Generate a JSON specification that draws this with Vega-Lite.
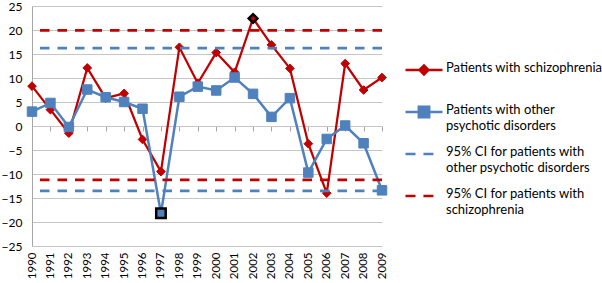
{
  "$schema": "https://vega.github.io/schema/vega-lite/v6.json",
  "width": 350,
  "height": 240,
  "autosize": "none",
  "padding": {"left": 32, "top": 6, "right": 220, "bottom": 37},
  "background": "white",
  "datasets": {
    "series": [
      {"year": "1990", "series": "Patients with schizophrenia", "value": 8.3},
      {"year": "1991", "series": "Patients with schizophrenia", "value": 3.4},
      {"year": "1992", "series": "Patients with schizophrenia", "value": -1.5},
      {"year": "1993", "series": "Patients with schizophrenia", "value": 12.1},
      {"year": "1994", "series": "Patients with schizophrenia", "value": 5.8},
      {"year": "1995", "series": "Patients with schizophrenia", "value": 6.8},
      {"year": "1996", "series": "Patients with schizophrenia", "value": -2.8},
      {"year": "1997", "series": "Patients with schizophrenia", "value": -9.5},
      {"year": "1998", "series": "Patients with schizophrenia", "value": 16.4},
      {"year": "1999", "series": "Patients with schizophrenia", "value": 8.9},
      {"year": "2000", "series": "Patients with schizophrenia", "value": 15.3},
      {"year": "2001", "series": "Patients with schizophrenia", "value": 11.2},
      {"year": "2002", "series": "Patients with schizophrenia", "value": 22.4},
      {"year": "2003", "series": "Patients with schizophrenia", "value": 16.9},
      {"year": "2004", "series": "Patients with schizophrenia", "value": 12.0},
      {"year": "2005", "series": "Patients with schizophrenia", "value": -3.7},
      {"year": "2006", "series": "Patients with schizophrenia", "value": -14.0},
      {"year": "2007", "series": "Patients with schizophrenia", "value": 13.0},
      {"year": "2008", "series": "Patients with schizophrenia", "value": 7.5},
      {"year": "2009", "series": "Patients with schizophrenia", "value": 10.1},
      {"year": "1990", "series": "Patients with other psychotic disorders", "value": 3.0},
      {"year": "1991", "series": "Patients with other psychotic disorders", "value": 4.8},
      {"year": "1992", "series": "Patients with other psychotic disorders", "value": -0.2},
      {"year": "1993", "series": "Patients with other psychotic disorders", "value": 7.6},
      {"year": "1994", "series": "Patients with other psychotic disorders", "value": 6.0},
      {"year": "1995", "series": "Patients with other psychotic disorders", "value": 5.0},
      {"year": "1996", "series": "Patients with other psychotic disorders", "value": 3.6},
      {"year": "1997", "series": "Patients with other psychotic disorders", "value": -18.2},
      {"year": "1998", "series": "Patients with other psychotic disorders", "value": 6.1},
      {"year": "1999", "series": "Patients with other psychotic disorders", "value": 8.2},
      {"year": "2000", "series": "Patients with other psychotic disorders", "value": 7.4},
      {"year": "2001", "series": "Patients with other psychotic disorders", "value": 10.1},
      {"year": "2002", "series": "Patients with other psychotic disorders", "value": 6.7},
      {"year": "2003", "series": "Patients with other psychotic disorders", "value": 1.9},
      {"year": "2004", "series": "Patients with other psychotic disorders", "value": 5.8},
      {"year": "2005", "series": "Patients with other psychotic disorders", "value": -9.7},
      {"year": "2006", "series": "Patients with other psychotic disorders", "value": -2.7},
      {"year": "2007", "series": "Patients with other psychotic disorders", "value": 0.1},
      {"year": "2008", "series": "Patients with other psychotic disorders", "value": -3.6},
      {"year": "2009", "series": "Patients with other psychotic disorders", "value": -13.4}
    ],
    "ci": [
      {"series": "Patients with schizophrenia", "bound": "upper", "value": 19.9},
      {"series": "Patients with schizophrenia", "bound": "lower", "value": -11.2},
      {"series": "Patients with other psychotic disorders", "bound": "upper", "value": 16.2},
      {"series": "Patients with other psychotic disorders", "bound": "lower", "value": -13.5}
    ]
  },
  "data": {"name": "series"},
  "config": {
    "view": {"stroke": null},
    "font": "Lato",
    "axisY": {
      "grid": true, "gridColor": "#c6c6c6", "gridWidth": 1,
      "domain": true, "domainColor": "#a6a6a6", "domainWidth": 1,
      "ticks": false, "labelPadding": 10, "labelFontSize": 12, "labelColor": "#000000",
      "labelFont": "Lato", "title": null, "labelOverlap": false, "labelBound": false, "labelFlush": false,
      "tickCount": 20
    },
    "axisX": {
      "labelFont": "Lato", "labelColor": "#000000", "labelFontSize": 11.5
    },
    "legend": {
      "labelFont": "Lato", "labelFontSize": 13, "labelColor": "#000000", "labelLimit": 400
    }
  },
  "resolve": {"axis": {"x": "independent"}},
  "layer": [
    {
      "transform": [{"filter": "datum.series === 'Patients with schizophrenia'"}],
      "mark": {"type": "line", "color": "#C00000", "strokeWidth": 2.25},
      "encoding": {
        "x": {"field": "year", "type": "ordinal", "scale": {"type": "point", "padding": 0},
              "axis": {"orient": "bottom", "labelAngle": -90, "ticks": false, "domain": false, "grid": false, "labelPadding": 6, "title": null}},
        "y": {"field": "value", "type": "quantitative", "scale": {"domain": [-25, 25], "nice": false},
              "axis": {"values": [-25, -20, -15, -10, -5, 0, 5, 10, 15, 20, 25], "tickCount": 20, "title": null, "labelOverlap": false}}
      }
    },
    {
      "transform": [{"filter": "datum.series === 'Patients with schizophrenia'"}],
      "mark": {"type": "point", "shape": "diamond", "filled": true, "size": 75, "opacity": 1},
      "encoding": {
        "x": {"field": "year", "type": "ordinal", "axis": null},
        "y": {"field": "value", "type": "quantitative", "axis": {"values": [-25, -20, -15, -10, -5, 0, 5, 10, 15, 20, 25], "tickCount": 20, "title": null, "labelOverlap": false}},
        "fill": {"value": "#C00000"},
        "stroke": {"condition": {"test": "datum.year === '2002'", "value": "#000000"}, "value": "#C00000"},
        "strokeWidth": {"condition": {"test": "datum.year === '2002'", "value": 2.5}, "value": 1}
      }
    },
    {
      "transform": [{"filter": "datum.series === 'Patients with other psychotic disorders'"}],
      "mark": {"type": "line", "color": "#4F81BD", "strokeWidth": 2.5},
      "encoding": {
        "x": {"field": "year", "type": "ordinal",
              "axis": {"orient": "top", "offset": -120, "labels": false, "ticks": true, "tickSize": -5, "tickColor": "#a6a6a6", "domain": true, "domainColor": "#c6c6c6", "grid": false, "title": null}},
        "y": {"field": "value", "type": "quantitative", "axis": {"values": [-25, -20, -15, -10, -5, 0, 5, 10, 15, 20, 25], "tickCount": 20, "title": null, "labelOverlap": false}}
      }
    },
    {
      "transform": [{"filter": "datum.series === 'Patients with other psychotic disorders'"}],
      "mark": {"type": "point", "shape": "square", "filled": true, "size": 90, "opacity": 1},
      "encoding": {
        "x": {"field": "year", "type": "ordinal", "axis": null},
        "y": {"field": "value", "type": "quantitative", "axis": {"values": [-25, -20, -15, -10, -5, 0, 5, 10, 15, 20, 25], "tickCount": 20, "title": null, "labelOverlap": false}},
        "fill": {"value": "#4F81BD"},
        "stroke": {"condition": {"test": "datum.year === '1997'", "value": "#000000"}, "value": "#4F81BD"},
        "strokeWidth": {"condition": {"test": "datum.year === '1997'", "value": 2.5}, "value": 1}
      }
    },
    {
      "data": {"name": "ci"},
      "transform": [{"filter": "datum.series === 'Patients with other psychotic disorders'"}],
      "mark": {"type": "rule", "color": "#4F81BD", "strokeWidth": 2.75, "strokeDash": [9.5, 8]},
      "encoding": {"y": {"field": "value", "type": "quantitative", "axis": {"values": [-25, -20, -15, -10, -5, 0, 5, 10, 15, 20, 25], "tickCount": 20, "title": null, "labelOverlap": false}}}
    },
    {
      "data": {"name": "ci"},
      "transform": [{"filter": "datum.series === 'Patients with schizophrenia'"}],
      "mark": {"type": "rule", "color": "#C00000", "strokeWidth": 2.75, "strokeDash": [9.5, 8]},
      "encoding": {"y": {"field": "value", "type": "quantitative", "axis": {"values": [-25, -20, -15, -10, -5, 0, 5, 10, 15, 20, 25], "tickCount": 20, "title": null, "labelOverlap": false}}}
    },
    {
      "transform": [{"filter": "false"}],
      "mark": {"type": "point", "filled": true},
      "encoding": {
        "fill": {"field": "series", "type": "nominal",
          "scale": {"domain": ["Patients with schizophrenia|", "Patients with other|psychotic disorders", "95% CI for patients with|other psychotic disorders", "95% CI for patients with|schizophrenia"],
                    "range": ["#C00000", "#4F81BD", "#4F81BD", "#C00000"]},
          "legend": {"orient": "none", "legendX": 372, "legendY": 44, "title": null, "padding": 0,
            "symbolSize": 1369, "symbolStrokeWidth": 2.5, "labelOffset": 2, "rowPadding": 1, "symbolOpacity": 1,
            "labelBaseline": "top", "labelExpr": "split(datum.label, '|')",
            "encode": {"labels": {"update": {"lineHeight": {"value": 16}, "dy": {"value": -8}}}}}},
        "stroke": {"field": "series", "type": "nominal",
          "scale": {"domain": ["Patients with schizophrenia|", "Patients with other|psychotic disorders", "95% CI for patients with|other psychotic disorders", "95% CI for patients with|schizophrenia"],
                    "range": ["#C00000", "#4F81BD", "#4F81BD", "#C00000"]}},
        "shape": {"field": "series", "type": "nominal",
          "scale": {"domain": ["Patients with schizophrenia|", "Patients with other|psychotic disorders", "95% CI for patients with|other psychotic disorders", "95% CI for patients with|schizophrenia"],
                    "range": ["M-1,0L1,0M-0.24,0L0,-0.24L0.24,0L0,0.24Z", "M-1,0L1,0M-0.28,-0.28L0.28,-0.28L0.28,0.28L-0.28,0.28Z", "M-1,0L-0.46,0M-0.03,0L0.51,0", "M-1,0L-0.46,0M-0.03,0L0.51,0"]}}
      }
    }
  ]
}
